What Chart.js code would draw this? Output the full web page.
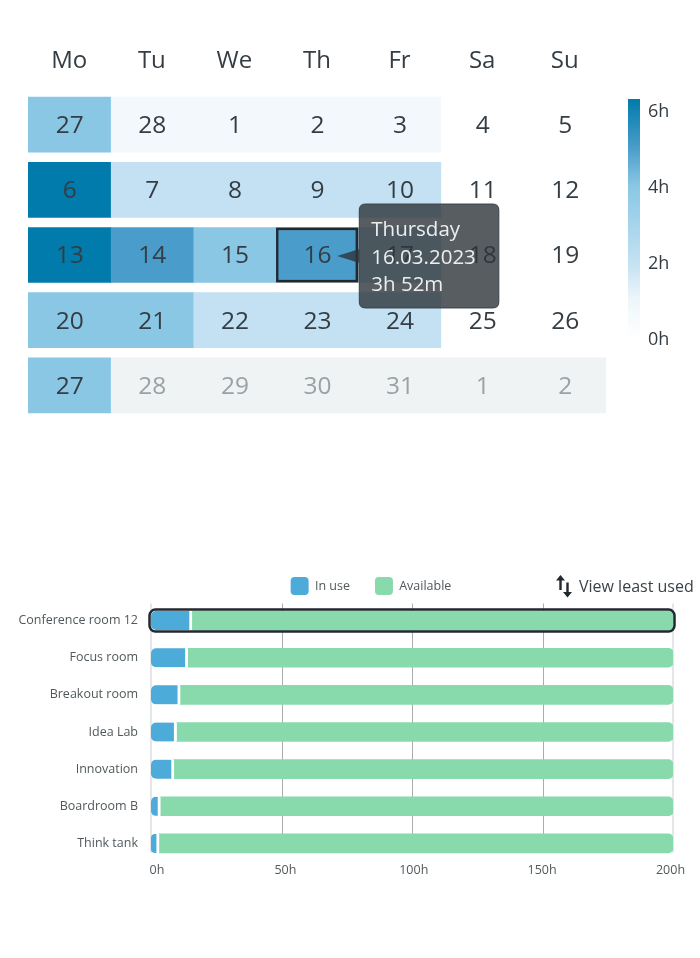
<!DOCTYPE html>
<html>
<head>
<meta charset="utf-8">
<style>
  html, body { margin: 0; background: #fff; width: 700px; height: 958px; overflow: hidden; font-family: "Open Sans", "Noto Sans", sans-serif; }
  canvas { position: absolute; }
  #calendar { left: 0; top: 0; }
  #scale { left: 600px; top: 90px; }
  #rooms { left: 0; top: 552px; }
  #sort { position: absolute; left: 555px; top: 573px; height: 26px; display: flex; align-items: center; color: #3a4246; font-size: 16px; white-space: nowrap; }
  #sort svg { margin-right: 6px; }
</style>
<script src="https://cdn.jsdelivr.net/npm/chart.js@4"></script>
</head>
<body>
<canvas id="calendar" width="620" height="430"></canvas>
<canvas id="scale" width="100" height="260"></canvas>
<canvas id="rooms" width="700" height="349"></canvas>
<div id="sort">
  <svg width="18" height="24" viewBox="0 0 18 24"><path d="M5.5 1 L10 6.5 H6.7 V16 H4.3 V6.5 H1 Z M12.5 23.5 L8 18 H11.3 V8.5 H13.7 V18 H17 Z" fill="#20292f"/></svg>
  <span>View least used</span>
</div>

<script>
const WEEKDAYS = ["Mo", "Tu", "We", "Th", "Fr", "Sa", "Su"];
const WEEKS = ["w1", "w2", "w3", "w4", "w5"];
const DAY_NUMBERS = [
  [27, 28, 1, 2, 3, 4, 5],
  [6, 7, 8, 9, 10, 11, 12],
  [13, 14, 15, 16, 17, 18, 19],
  [20, 21, 22, 23, 24, 25, 26],
  [27, 28, 29, 30, 31, 1, 2]
];
// hours per day, null = outside the month
const DAY_HOURS = [
  [3, 0.2, 0.2, 0.2, 0.2, 0, 0],
  [6, 2, 2, 2, 2, 0, 0],
  [6, 4, 3, 3.87, 2, 0, 0],
  [3, 3, 2, 2, 2, 0, 0],
  [3, null, null, null, null, null, null]
];
const LEVEL_LIMITS = [0, 1, 2.5, 3.5, 5, 7];
const LEVEL_COLORS = ["#ffffff", "#f3f8fc", "#c3e1f2", "#8ac7e5", "#4a9dca", "#007bab"];
const SELECTED_DAY = { week: 2, weekday: 3 };
const TOOLTIP_TITLE = "Thursday";
const TOOLTIP_LINES = ["16.03.2023", "3h 52m"];

const SCALE_TICKS = [0, 2, 4, 6];
const SCALE_TOP = 6.29;
const SCALE_STOPS = [0, 1, 2, 4, 5, 6.29];
const SCALE_COLORS = ["#ffffff", "#eef6fb", "#c3e1f2", "#8ac7e5", "#4a9dca", "#007bab"];

const ROOMS = ["Conference room 12", "Focus room", "Breakout room", "Idea Lab", "Innovation", "Boardroom B", "Think tank"];
const IN_USE = [15.7, 14.1, 11.2, 9.8, 8.8, 3.6, 3.1];
const AVAILABLE = [184.3, 185.9, 188.8, 190.2, 191.2, 196.4, 196.9];
const ROOM_TICKS = [0, 50, 100, 150, 200];

const DARK = "#20292f";
const TEXT = "#333d43";
const FONT = '"Open Sans", "Noto Sans", sans-serif';

function dayColor(hours) {
  if (hours === null) return "#f0f3f4";
  const level = LEVEL_LIMITS.findIndex(limit => hours <= limit);
  return LEVEL_COLORS[level];
}

Chart.Tooltip.positioners.selectedCell = function (items) {
  const bar = items[0].element;
  return { x: bar.x, y: bar.y + 1 };
};

// day numbers on the cells, and the small arrow of the tooltip
const calendarPlugin = {
  id: "calendarLabels",
  afterDatasetsDraw(chart) {
    const ctx = chart.ctx;
    ctx.save();
    ctx.font = `24.5px ${FONT}`;
    ctx.textAlign = "center";
    ctx.textBaseline = "middle";
    WEEKDAYS.forEach((day, c) => {
      const bars = chart.getDatasetMeta(c).data;
      WEEKS.forEach((week, r) => {
        const p = bars[r].getCenterPoint();
        ctx.fillStyle = DAY_HOURS[r][c] === null ? "#9aa2a7" : TEXT;
        ctx.fillText(DAY_NUMBERS[r][c], p.x + 0.5, p.y + 1.5);
      });
    });
    ctx.restore();
  },
  beforeTooltipDraw(chart, args) {
    const tip = args.tooltip;
    const ctx = chart.ctx;
    const midY = tip.y + tip.height / 2;
    ctx.save();
    ctx.fillStyle = "rgba(45,52,57,0.8)";
    ctx.beginPath();
    ctx.moveTo(tip.x - 22, midY);
    ctx.lineTo(tip.x, midY - 7);
    ctx.lineTo(tip.x, midY + 7);
    ctx.closePath();
    ctx.fill();
    ctx.restore();
  }
};

const calendar = new Chart(document.getElementById("calendar"), {
  type: "bar",
  data: {
    labels: WEEKS,
    datasets: WEEKDAYS.map((day, c) => ({
      label: day,
      data: WEEKS.map(() => 1),
      backgroundColor: WEEKS.map((w, r) => dayColor(DAY_HOURS[r][c])),
      borderColor: DARK,
      borderWidth: WEEKS.map((w, r) => (r === SELECTED_DAY.week && c === SELECTED_DAY.weekday ? 3 : 0)),
      borderSkipped: false,
      barThickness: 55
    }))
  },
  options: {
    indexAxis: "y",
    responsive: false,
    animation: false,
    events: [],
    layout: { padding: { left: 28, right: 14, bottom: 12 } },
    scales: {
      x: {
        position: "top",
        stacked: true,
        min: 0,
        max: WEEKDAYS.length,
        grid: { display: false },
        border: { display: false },
        afterBuildTicks: axis => { axis.ticks = WEEKDAYS.map((d, i) => ({ value: i + 0.5 })); },
        afterFit: axis => { axis.height = 92; },
        ticks: {
          autoSkip: false,
          maxRotation: 0,
          padding: 8,
          color: TEXT,
          font: { family: FONT, size: 24 },
          callback: value => WEEKDAYS[value - 0.5]
        }
      },
      y: { stacked: true, display: false }
    },
    plugins: {
      legend: { display: false },
      tooltip: {
        enabled: true,
        position: "selectedCell",
        xAlign: "left",
        yAlign: "center",
        caretSize: 0,
        caretPadding: 1,
        cornerRadius: 6,
        backgroundColor: "rgba(45,52,57,0.8)",
        borderColor: "#3a4348",
        borderWidth: 1,
        displayColors: false,
        padding: { left: 12, right: 23, top: 12.5, bottom: 9 },
        titleColor: "#eceeee",
        bodyColor: "#eceeee",
        titleFont: { family: FONT, size: 20.5, weight: "normal", lineHeight: 1.34 },
        bodyFont: { family: FONT, size: 20.5, weight: "normal", lineHeight: 1.34 },
        titleMarginBottom: 0,
        bodySpacing: 0,
        callbacks: {
          title: () => TOOLTIP_TITLE,
          label: () => TOOLTIP_LINES
        }
      }
    }
  },
  plugins: [calendarPlugin]
});
calendar.tooltip.setActiveElements([{ datasetIndex: SELECTED_DAY.weekday, index: SELECTED_DAY.week }], { x: 0, y: 0 });
calendar.update();

function scaleGradient(context) {
  const { ctx, chartArea, scales } = context.chart;
  if (!chartArea) return SCALE_COLORS[0];
  const g = ctx.createLinearGradient(0, scales.y.getPixelForValue(0), 0, scales.y.getPixelForValue(SCALE_TOP));
  SCALE_STOPS.forEach((h, i) => g.addColorStop(h / SCALE_TOP, SCALE_COLORS[i]));
  return g;
}

new Chart(document.getElementById("scale"), {
  type: "bar",
  data: {
    labels: ["hours"],
    datasets: [{ data: [[0, SCALE_TOP]], backgroundColor: scaleGradient, barThickness: 12 }]
  },
  options: {
    responsive: false,
    animation: false,
    events: [],
    layout: { padding: { left: 28, top: 9, bottom: 12 } },
    scales: {
      x: { display: false },
      y: {
        position: "right",
        min: 0,
        max: SCALE_TOP,
        grid: { display: false },
        border: { display: false },
        afterBuildTicks: axis => { axis.ticks = SCALE_TICKS.map(value => ({ value })); },
        afterFit: axis => {
          axis.width = 60;
          axis.paddingTop = 0;
          axis.paddingBottom = 0;
        },
        ticks: {
          padding: 0,
          labelOffset: 2,
          color: TEXT,
          font: { family: FONT, size: 18 },
          callback: value => `${value}h`
        }
      }
    },
    plugins: { legend: { display: false }, tooltip: { enabled: false } }
  }
});

// grid lines stop at the last bar, tick labels sit slightly off them, first row is outlined
const roomsPlugin = {
  id: "roomsExtras",
  beforeInit(chart) {
    const fit = chart.legend.fit;
    chart.legend.fit = function () {
      fit.call(this);
      this.height = 50;
    };
  },
  afterLayout(chart) {
    chart.legend.left += 34.5;
    chart.legend.right += 34.5;
  },
  beforeDatasetsDraw(chart) {
    const { ctx, scales: { x, y } } = chart;
    const top = y.getPixelForValue(0) - 17;
    const bottom = y.getPixelForValue(ROOMS.length - 1) + 9;
    ctx.save();
    ROOM_TICKS.forEach((value, i) => {
      const edge = i === 0 || i === ROOM_TICKS.length - 1;
      ctx.strokeStyle = edge ? "#e4e6e8" : "#a8acae";
      ctx.lineWidth = edge ? 2 : 1;
      const px = Math.round(x.getPixelForValue(value)) + (edge ? 0 : 0.5);
      ctx.beginPath();
      ctx.moveTo(px, top);
      ctx.lineTo(px, bottom);
      ctx.stroke();
    });
    ctx.restore();
  },
  afterDatasetsDraw(chart) {
    const { ctx, scales: { x, y } } = chart;
    const mid = y.getPixelForValue(0);
    ctx.save();
    ctx.strokeStyle = DARK;
    ctx.lineWidth = 2.5;
    ctx.beginPath();
    ctx.roundRect(x.getPixelForValue(0) - 1.5, mid - 11, x.getPixelForValue(200) - x.getPixelForValue(0) + 3, 22, 6);
    ctx.stroke();
    ctx.font = `12.5px ${FONT}`;
    ctx.fillStyle = "#50585c";
    ctx.textAlign = "center";
    ctx.textBaseline = "middle";
    ROOM_TICKS.forEach(value => {
      ctx.fillText(`${value}h`, x.getPixelForValue(value) + 6 - 8.5 * value / 200, chart.chartArea.bottom + 8);
    });
    ctx.restore();
  }
};

new Chart(document.getElementById("rooms"), {
  type: "bar",
  data: {
    labels: ROOMS,
    datasets: [
      {
        label: "In use",
        data: IN_USE,
        backgroundColor: "#4dabd9",
        borderColor: "#ffffff",
        borderWidth: { left: 0, top: 0, bottom: 0, right: 3 },
        borderSkipped: false,
        borderRadius: { topLeft: 5, bottomLeft: 5, topRight: 0, bottomRight: 0 },
        barThickness: 19
      },
      {
        label: "Available",
        data: AVAILABLE,
        backgroundColor: "#88d9ab",
        borderWidth: 0,
        borderSkipped: false,
        borderRadius: { topLeft: 0, bottomLeft: 0, topRight: 5, bottomRight: 5 },
        barThickness: 19
      }
    ]
  },
  options: {
    indexAxis: "y",
    responsive: false,
    animation: false,
    events: [],
    layout: { padding: { right: 27, bottom: 39 } },
    scales: {
      x: {
        stacked: true,
        min: 0,
        max: 200,
        display: true,
        grid: { display: false },
        border: { display: false },
        ticks: { display: false },
        afterFit: axis => { axis.height = 0; }
      },
      y: {
        stacked: true,
        grid: { display: false, drawTicks: false },
        border: { display: false },
        afterFit: axis => { axis.width = 151; },
        ticks: {
          padding: 13,
          autoSkip: false,
          color: "#50585c",
          font: { family: FONT, size: 12.5 }
        }
      }
    },
    plugins: {
      tooltip: { enabled: false },
      legend: {
        position: "top",
        labels: {
          boxWidth: 18,
          boxHeight: 18,
          useBorderRadius: true,
          borderRadius: 4,
          padding: 25,
          color: "#50585c",
          font: { family: FONT, size: 12.5 },
          generateLabels: c => Chart.defaults.plugins.legend.labels.generateLabels(c).map(item => ({ ...item, lineWidth: 0 }))
        }
      }
    }
  },
  plugins: [roomsPlugin]
});
</script>
</body>
</html>
